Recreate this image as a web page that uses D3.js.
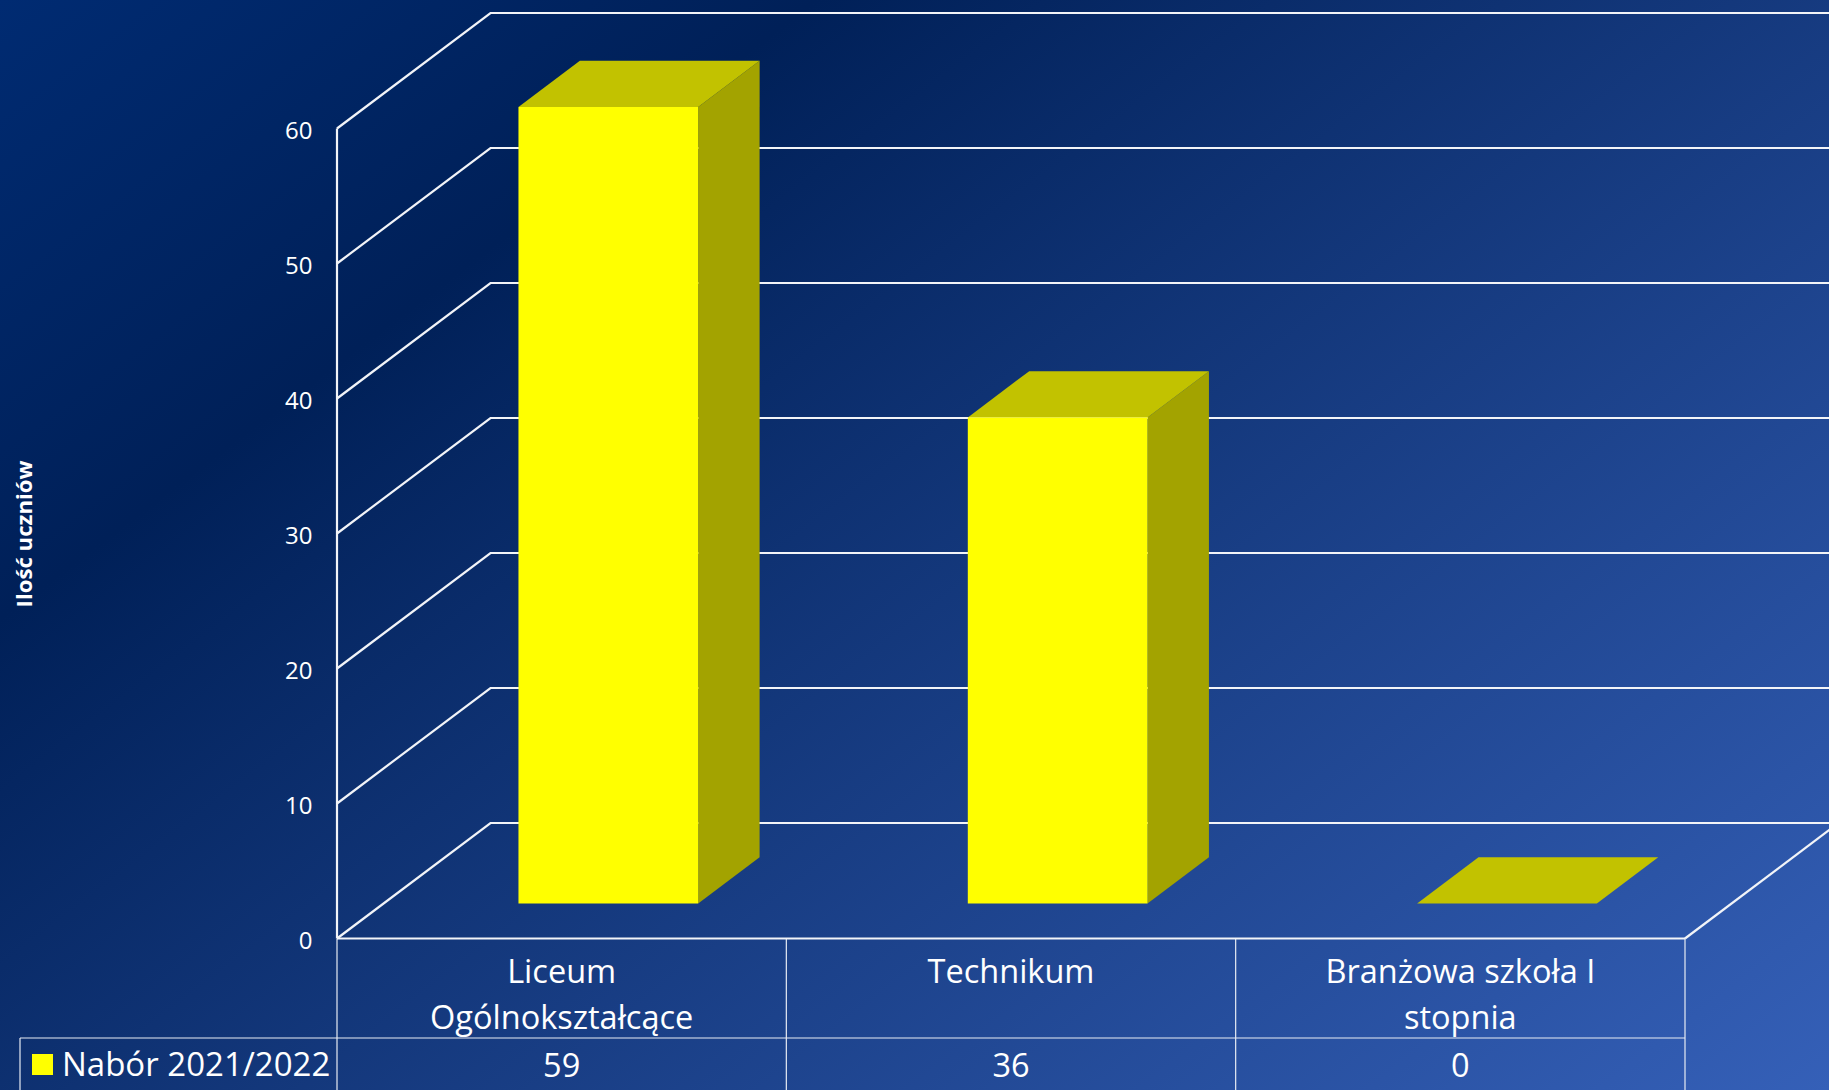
<!DOCTYPE html>
<html><head><meta charset="utf-8">
<script src="https://cdn.jsdelivr.net/npm/d3@7"></script>
<style>html,body{margin:0;padding:0;background:#001f56;overflow:hidden}svg{display:block}text{font-family:"Open Sans",Lato,sans-serif;fill:#fff}</style>
</head><body><svg id="c" width="1829" height="1090"></svg>
<script>
const categories = [["Liceum","Ogólnokształcące"],["Technikum"],["Branżowa szkoła I","stopnia"]];
const seriesName = "Nabór 2021/2022";
const values = [59,36,0];
const tickValues = [0,10,20,30,40,50,60];
const axisTitle = "Ilość uczniów";

const svg = d3.select("#c");
const defs = svg.append("defs");
const g = defs.append("linearGradient").attr("id","bg").attr("gradientUnits","userSpaceOnUse")
  .attr("x1",0).attr("y1",0).attr("x2",1192).attr("y2",1573);
[[0,"#002b72"],[.25,"#002058"],[1,"#3560b8"]].forEach(s=>g.append("stop").attr("offset",s[0]).attr("stop-color",s[1]));
svg.append("rect").attr("width",1829).attr("height",1090).attr("fill","url(#bg)");

const y = d3.scaleLinear().domain([0,60]).range([938.5,128.5]);
const x = d3.scaleLinear().domain([0,3]).range([337,1685]);
const depthX = d3.scaleLinear().domain([0,1]).range([0,153.5]);
const depthY = d3.scaleLinear().domain([0,1]).range([0,-115.5]);
const P = (c,v,d)=>[x(c)+depthX(d), y(v)+depthY(d)];
const poly = pts=>d3.line()(pts)+"Z";
const seg = (a,b)=>d3.line()([a,b]);
const wall = svg.append("g").attr("fill","none").attr("stroke","#f2f4f8").attr("stroke-width",2.2);
tickValues.forEach(t=>{
  wall.append("path").attr("d",d3.line()([P(0,t,0),P(0,t,1),P(3,t,1)]));
});
wall.append("path").attr("d",seg(P(0,0,0),P(0,60,0)));
wall.append("path").attr("d",seg(P(0,0,0),P(3,0,0)));
wall.append("path").attr("d",seg(P(3,0,0),P(3,0,1)));

// bars
const band = d3.scaleBand().domain(d3.range(values.length)).range([0,3]).paddingInner(0.6).paddingOuter(0.3);
const d0=0.304, d1=0.704;
const bars = svg.append("g").selectAll("g").data(values).join("g");
bars.each(function(v,i){
  const s=d3.select(this), a=band(i), b=a+band.bandwidth();
  s.append("path").attr("fill","#a3a300").attr("d",poly([P(b,0,d0),P(b,0,d1),P(b,v,d1),P(b,v,d0)]));
  s.append("path").attr("fill","#c2c200").attr("d",poly([P(a,v,d0),P(a,v,d1),P(b,v,d1),P(b,v,d0)]));
  if(v>0) s.append("path").attr("fill","#ffff00").attr("d",poly([P(a,0,d0),P(b,0,d0),P(b,v,d0),P(a,v,d0)]));
});

// y axis labels
const ax = svg.append("g").attr("transform","translate(312.5,0)")
  .call(d3.axisLeft(y).tickValues(tickValues).tickSize(0).tickPadding(0));
ax.select(".domain").remove();
ax.selectAll("text").attr("font-size",24).attr("text-anchor","end").attr("dy",null)
  .attr("y",0).attr("transform","translate(0,10)").style("fill","#fff");
ax.attr("font-family",null);

svg.append("text").attr("transform","translate(32,534) rotate(-90)").attr("text-anchor","middle")
  .attr("font-size",22.2).attr("font-weight",700).text(axisTitle);

// data table
const tableTop=939, rowY=1038, tableBot=1090, leftX=20;
const tb = svg.append("g").attr("fill","none").attr("stroke","#e8ecf4").attr("stroke-width",1.2);
d3.range(values.length+1).forEach(i=>tb.append("path").attr("d",seg([x(i),tableTop],[x(i),tableBot])));
tb.append("path").attr("d",seg([leftX,rowY],[x(3),rowY]));
tb.append("path").attr("d",seg([leftX,rowY],[leftX,tableBot]));

categories.forEach((lines,i)=>{
  lines.forEach((l,j)=>svg.append("text").attr("x",x(i+.5)).attr("y",982.5+46*j).attr("text-anchor","middle").attr("font-size",32.5).text(l));
  svg.append("text").attr("x",x(i+.5)).attr("y",1077).attr("text-anchor","middle").attr("font-size",32.5).text(values[i]);
});
svg.append("rect").attr("x",32).attr("y",1054).attr("width",21).attr("height",21).attr("fill","#ffff00");
svg.append("text").attr("x",62).attr("y",1076).attr("font-size",33).text(seriesName);
</script></body></html>
